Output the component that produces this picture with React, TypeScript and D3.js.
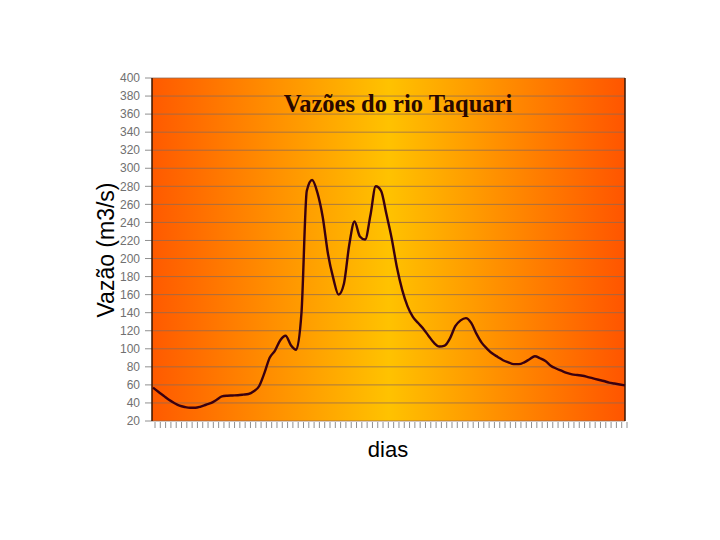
import React from "react";
import * as d3 from "d3";

const yTicks = [20, 40, 60, 80, 100, 120, 140, 160, 180, 200, 220, 240, 260, 280, 300, 320, 340, 360, 380, 400];

const vazao = [
  57, 52.4, 48, 43.5, 40, 37, 35.5, 34.7, 34.7, 36,
  38, 40, 43.5, 47.2, 48, 48.3, 48.6, 49.2, 49.9, 53,
  58.5, 73, 90, 98, 109.5, 114.5, 104, 99, 140, 275,
  287, 273, 246, 205, 178, 160, 172, 215, 241, 224.5,
  221, 248, 280, 275, 249.5, 222.5, 190, 165, 147, 135.4,
  128.5, 122, 114, 106.5, 102.5, 103.5, 111.5, 125, 131.5, 134,
  128.7, 116.5, 106.5, 100, 94.7, 91, 87.3, 85, 83, 83,
  85, 88.4, 91.7, 89.5, 86.5, 81.3, 78.2, 75.7, 73.3, 71.7,
  70.9, 70.1, 68.7, 67.2, 65.7, 64.3, 62.5, 61.5, 60.5, 59.5,
];

const days = vazao.map((_, i) => i + 1);

const title = "Vazões do rio Taquari";
const yTitle = "Vazão (m3/s)";
const xTitle = "dias";

export default function App() {
  const left = 152;
  const right = 625;
  const top = 78;
  const bottom = 421;

  const x = d3.scaleLinear().domain([1, days.length]).range([left + 1, right]);
  const y = d3.scaleLinear().domain([20, 400]).range([bottom, top]);

  const line = d3
    .line<number>()
    .x((_, i) => x(days[i]))
    .y((d) => y(d))
    .curve(d3.curveMonotoneX);

  return (
    <svg
      width={720}
      height={540}
      style={{ position: "absolute", left: 0, top: 0, background: "#fff" }}
    >
      <defs>
        <linearGradient id="bg" x1="0" y1="0" x2="1" y2="0">
          <stop offset="0%" stopColor="#ff5a00" />
          <stop offset="50%" stopColor="#ffc200" />
          <stop offset="100%" stopColor="#ff5500" />
        </linearGradient>
      </defs>
      <rect x={left} y={top} width={right - left} height={bottom - top} fill="url(#bg)" />
      {yTicks.map((t) => (
        <line
          key={"g" + t}
          x1={left}
          x2={right}
          y1={y(t)}
          y2={y(t)}
          stroke="#8c6a55"
          strokeOpacity={0.75}
          strokeWidth={1}
        />
      ))}
      {yTicks.map((t) => (
        <g key={"t" + t}>
          <line x1={left - 7} x2={left} y1={y(t)} y2={y(t)} stroke="#909090" />
          <text
            x={140}
            y={y(t)}
            dy="0.35em"
            textAnchor="end"
            fontFamily="Liberation Sans, Arial, sans-serif"
            fontSize={12}
            fill="#707070"
          >
            {t}
          </text>
        </g>
      ))}
      {days.map((d) => (
        <line
          key={"x" + d}
          x1={x(d) + 2}
          x2={x(d) + 2}
          y1={bottom + 1}
          y2={bottom + 7}
          stroke="#909090"
        />
      ))}
      <line x1={left} x2={left} y1={top} y2={bottom} stroke="#3a1500" strokeWidth={1.5} />
      <line x1={right} x2={right} y1={top} y2={bottom} stroke="#3a1500" strokeWidth={1.5} />
      <path d={line(vazao) || ""} fill="none" stroke="#3a0010" strokeWidth={2.4} strokeLinejoin="round" />
      <text
        x={398}
        y={112}
        textAnchor="middle"
        fontFamily="Liberation Serif, Times New Roman, serif"
        fontWeight="bold"
        fontSize={24.5}
        fill="#2a0800"
      >
        {title}
      </text>
      <text
        transform={`translate(114,250) rotate(-90)`}
        textAnchor="middle"
        fontFamily="Liberation Sans, Arial, sans-serif"
        fontSize={23}
        fill="#000"
      >
        {yTitle}
      </text>
      <text
        x={388}
        y={457}
        textAnchor="middle"
        fontFamily="Liberation Sans, Arial, sans-serif"
        fontSize={22}
        fill="#000"
      >
        {xTitle}
      </text>
    </svg>
  );
}
